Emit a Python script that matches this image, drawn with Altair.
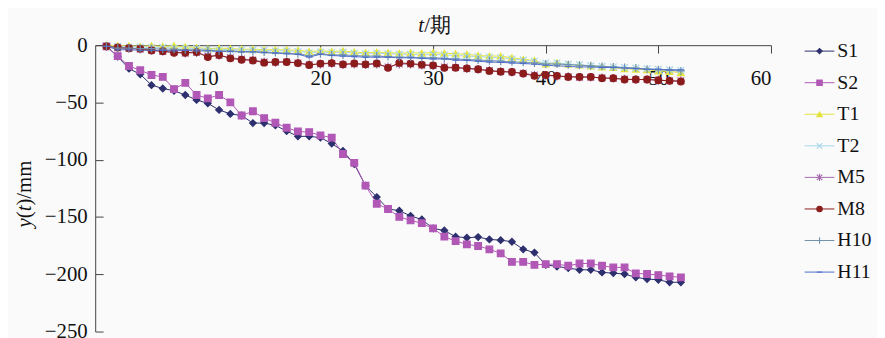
import altair as alt
import pandas as pd

# ---------------- data ----------------
t_values = list(range(1, 53))
series_names = ["S1", "S2", "T1", "T2", "M5", "M8", "H10", "H11"]

S1 = [-1, -10, -20.5, -25.4, -34.9, -37.8, -39.8, -43.5, -47.8, -50.8,
      -56.5, -60, -61.4, -68, -68, -70, -75, -79.6, -79.6, -80.7,
      -85.9, -92.3, -103.8, -122.6, -132.6, -143, -144.5, -149, -152.2, -160,
      -161.8, -167.2, -168.1, -167.5, -169.6, -170.2, -171.6, -178.2, -181.1, -191.8,
      -193.2, -194.6, -196.1, -196.1, -198.4, -199, -199.8, -202.7, -204.2, -204.8,
      -207, -207]
S2 = [-1, -9.5, -18.2, -21.9, -26, -27.7, -38.3, -32.9, -43.5, -46.4,
      -43.5, -49.9, -61.4, -57.7, -63.7, -67.7, -72.1, -75.3, -75.9, -78.7,
      -80.7, -95, -102.7, -122.6, -138.4, -143, -149.9, -153, -155.4, -160,
      -167.2, -171, -173.9, -175.3, -178.2, -181.7, -189.2, -189.2, -191.8, -191.2,
      -191.2, -192.6, -190.6, -190.6, -192.6, -194, -194, -199.2, -199.8, -200.7,
      -201.8, -202.7]
T1 = [0, -0.5, -0.5, -1, -0.5, -1, -0.5, -1.5, -2, -3,
      -2.5, -3, -3.5, -3.5, -4, -4, -4, -4.5, -5.5, -5,
      -5.5, -5, -6, -6.5, -6, -6.5, -7, -6.5, -7, -6.5,
      -7, -7.5, -8, -9, -9.5, -9.5, -11, -12.4, -13.3, -16.5,
      -15.3, -16.7, -17.3, -18.2, -19, -19.5, -20.5, -21, -21.5, -22.5,
      -23, -24]
T2 = [-1, -1, -1.5, -1.5, -2, -2, -2.5, -2.5, -3, -3.5,
      -3.5, -4, -4, -4.5, -4.5, -5, -5, -5.5, -6.5, -6,
      -6.5, -6, -7, -7.5, -7, -7.5, -8, -8, -8.5, -8,
      -8.5, -9, -9.5, -10, -10.5, -11, -12, -13, -14, -15.5,
      -15.5, -16.5, -17, -18, -18.5, -19, -19.5, -20, -20.5, -21,
      -21.5, -22]
M5 = [-1, -2.5, -3, -3.5, -4.5, -5.5, -6, -7, -6.5, -9.5,
      -9, -11, -12, -13, -14.5, -15, -14.5, -15.5, -17, -16.5,
      -16, -17, -16.5, -17, -16.5, -19, -16.5, -16.5, -17.5, -18,
      -19, -19.5, -20.5, -21, -22, -23, -23.5, -24.5, -26, -26.5,
      -27, -27.5, -28, -28, -28.5, -29, -29.5, -30, -30, -30.5,
      -31, -31]
M8 = [-1, -2, -2.6, -3.2, -4.6, -5.2, -6.6, -6.6, -6, -10.4,
      -8.6, -11.5, -12.7, -13.3, -15.3, -14.7, -14.7, -15.6, -17.3, -16.1,
      -15.6, -16.7, -15.9, -16.7, -15.9, -19.8, -15.5, -16.1, -17, -17.6,
      -19.8, -19.6, -20.2, -21, -22.5, -23.1, -23.4, -24.8, -26.8, -26,
      -26.8, -27.7, -27.7, -27.7, -28.8, -28.8, -30, -30, -30, -30.6,
      -31.1, -31.7]
H10 = [-1, -2.5, -2.5, -3, -3, -3.5, -3.5, -4, -4, -4.5,
       -5, -5, -5.5, -5.5, -6, -6.5, -7, -7.5, -9, -7.5,
       -8.5, -8.5, -9, -9.5, -9.5, -10, -10.5, -10.5, -11, -11,
       -11.5, -12, -12.5, -13, -13.5, -14, -14.5, -15, -15.5, -16.5,
       -16.5, -17, -17.5, -18, -18.5, -19, -19.5, -20, -21, -21.5,
       -22, -22.5]
H11 = [-1, -4, -4, -4.5, -4.5, -4.5, -5, -4.5, -5, -5,
       -5.5, -5.5, -6, -6, -6.5, -7, -7.5, -8, -10.4, -8,
       -9, -9.5, -10, -10.5, -10.4, -10.5, -11, -11, -11.5, -12,
       -12, -13, -13.3, -14, -14.7, -15, -15.5, -16, -16.5, -17.5,
       -18, -18.5, -19, -19, -19.5, -19.5, -20, -20.5, -21, -21,
       -21.5, -21.5]

series_values = [S1, S2, T1, T2, M5, M8, H10, H11]
x_ticks = [10, 20, 30, 40, 50, 60]
y_ticks = [0, -50, -100, -150, -200, -250]

# ---------------- styles ----------------
colors = ["#2D2F6E", "#B158B6", "#E3E33C", "#A6D6EA", "#A469AD", "#8C1C1C", "#6F90AE", "#4E6CC9"]
shapes = ["diamond", "square", "triangle-up",
          "M-1,-1L1,1M-1,1L1,-1",
          "M-1,-1L1,1M-1,1L1,-1M0,-1.3V1.3",
          "circle",
          "M-1.2,0H1.2M0,-1.2V1.2",
          "M-1,0H1"]

W, H = 682, 289
FONT = "'Liberation Serif', 'Times New Roman', Times, 'DejaVu Serif', serif"
FS = 21

rows = []
for name, vals in zip(series_names, series_values):
    for t, v in zip(t_values, vals):
        rows.append({"t": t, "value": v, "series": name})
df = pd.DataFrame(rows)
leg_df = pd.DataFrame({"series": series_names})
one = pd.DataFrame({"a": [0]})

color_scale = alt.Scale(domain=series_names, range=colors)
shape_scale = alt.Scale(domain=series_names, range=shapes)
x_scale = alt.Scale(domain=[0, 60], nice=False, zero=False)
y_scale = alt.Scale(domain=[-250, 0], nice=False, zero=False)

x_axis = alt.Axis(orient="bottom", offset=-H, values=x_ticks, title=None,
                  grid=False, tickSize=8, labelPadding=15,
                  labelFont=FONT, labelFontSize=FS, labelColor="#111",
                  domainColor="#444", tickColor="#444")
x_enc = alt.X("t:Q", scale=x_scale, axis=x_axis)

lines = alt.Chart(df).mark_line(strokeWidth=1).encode(
    x=x_enc,
    y=alt.Y("value:Q", scale=y_scale,
            axis=alt.Axis(orient="left", values=y_ticks, title=None, grid=False,
                          ticks=False, tickSize=0, labelPadding=8,
                          labelFont=FONT, labelFontSize=FS, labelColor="#111",
                          domainColor="#444")),
    color=alt.Color("series:N", scale=color_scale, legend=None),
    detail="series:N",
)

tick_helper = alt.Chart(df).mark_point(opacity=0).encode(
    x=x_enc,
    y=alt.Y("value:Q", scale=y_scale,
            axis=alt.Axis(orient="right", offset=-W, values=y_ticks, title=None,
                          grid=False, labels=False, domain=False, ticks=True,
                          tickSize=8, tickColor="#444")),
)

points = alt.Chart(df).mark_point(filled=True, size=45, strokeWidth=1.2, opacity=1).encode(
    x=x_enc,
    y=alt.Y("value:Q", scale=y_scale, axis=None),
    color=alt.Color("series:N", scale=color_scale, legend=None),
    stroke=alt.Stroke("series:N", scale=color_scale, legend=None),
    shape=alt.Shape("series:N", scale=shape_scale, legend=None),
)

y_leg = alt.Y("series:N", sort=series_names,
              scale=alt.Scale(type="point", domain=series_names, range=[6, 229], padding=0),
              axis=None)

leg_rule = alt.Chart(leg_df).mark_rule(strokeWidth=1).encode(
    x=alt.value(716), x2=alt.value(746), y=y_leg,
    color=alt.Color("series:N", scale=color_scale, legend=None),
)
leg_pts = alt.Chart(leg_df).mark_point(filled=True, size=30, strokeWidth=1.1, opacity=1).encode(
    x=alt.value(731), y=y_leg,
    color=alt.Color("series:N", scale=color_scale, legend=None),
    stroke=alt.Stroke("series:N", scale=color_scale, legend=None),
    shape=alt.Shape("series:N", scale=shape_scale, legend=None),
)
leg_txt = alt.Chart(leg_df).mark_text(align="left", baseline="middle", font=FONT,
                                      fontSize=FS - 1, color="#111").encode(
    x=alt.value(749), y=y_leg, text="series:N",
)

# axis titles with italic variable letters
xt1 = alt.Chart(one).mark_text(text="t", align="left", baseline="middle", font=FONT,
                               fontSize=FS, fontStyle="italic", color="#111").encode(
    x=alt.value(326), y=alt.value(-19))
xt2 = alt.Chart(one).mark_text(text="/期", align="left", baseline="middle", font=FONT,
                               fontSize=FS, color="#111").encode(
    x=alt.value(332), y=alt.value(-19))

yx = -71
yt1 = alt.Chart(one).mark_text(text="y", align="left", baseline="middle", angle=270,
                               font=FONT, fontSize=FS, fontStyle="italic", color="#111").encode(
    x=alt.value(yx), y=alt.value(184))
yt2 = alt.Chart(one).mark_text(text="(", align="left", baseline="middle", angle=270,
                               font=FONT, fontSize=FS, color="#111").encode(
    x=alt.value(yx), y=alt.value(174.7))
yt3 = alt.Chart(one).mark_text(text="t", align="left", baseline="middle", angle=270,
                               font=FONT, fontSize=FS, fontStyle="italic", color="#111").encode(
    x=alt.value(yx), y=alt.value(167.7))
yt4 = alt.Chart(one).mark_text(text=")/mm", align="left", baseline="middle", angle=270,
                               font=FONT, fontSize=FS, color="#111").encode(
    x=alt.value(yx), y=alt.value(161.9))

chart = alt.layer(
    lines, tick_helper, points, leg_rule, leg_pts, leg_txt,
    xt1, xt2, yt1, yt2, yt3, yt4,
).resolve_scale(
    y="independent"
).resolve_axis(
    y="independent"
).properties(
    width=W, height=H,
    autosize=alt.AutoSizeParams(type="none"),
    padding={"left": 88, "top": 36, "right": 107, "bottom": 5},
    background="#fafafa",
).configure_view(stroke=None)

chart.save("out.html", embed_options={"renderer": "svg", "actions": False})
